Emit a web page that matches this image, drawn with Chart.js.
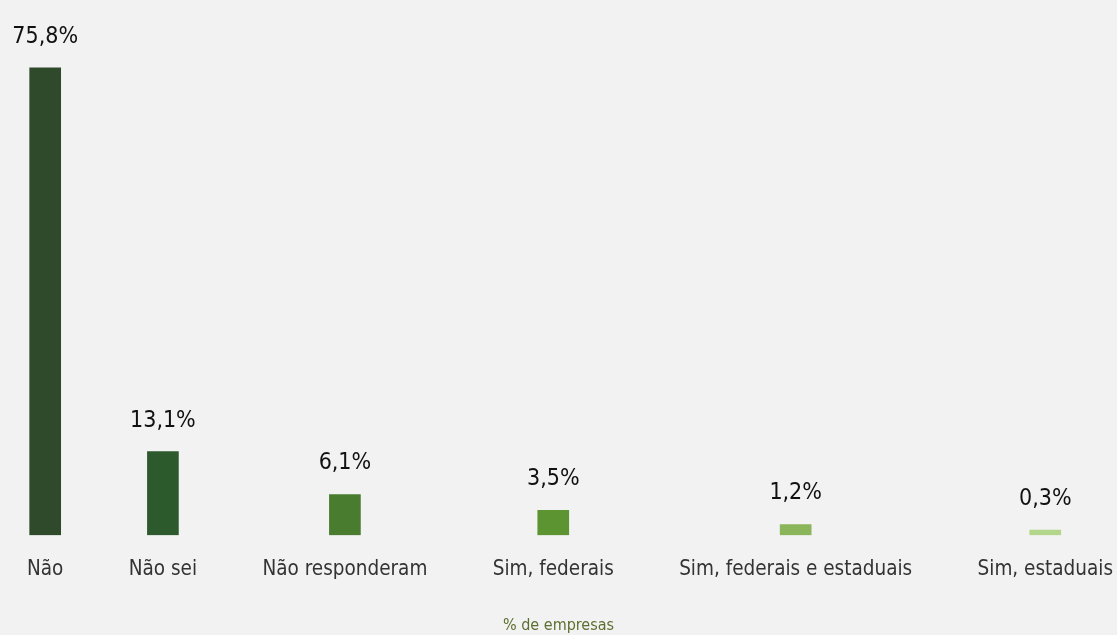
<!DOCTYPE html>
<html>
<head>
<meta charset="utf-8">
<script src="https://cdn.jsdelivr.net/npm/chart.js@4/dist/chart.umd.min.js"></script>
<style>
  html, body { margin: 0; padding: 0; background: #f2f2f2; }
  #wrap { width: 1117px; height: 635px; position: relative; }
</style>
</head>
<body>
<div id="wrap"><canvas id="c"></canvas></div>
<script>
// ---- data ----
const categories = ['Não', 'Não sei', 'Não responderam', 'Sim, federais', 'Sim, federais e estaduais', 'Sim, estaduais'];
const values = [75.8, 13.1, 6.1, 3.5, 1.2, 0.3];
const barColors = ['#2e4a2b', '#2d5a2c', '#4a7c2f', '#5b9430', '#8ab55a', '#b3d68a'];
const axisTitle = '% de empresas';

// ---- style ----
const FAMILY = "'Liberation Sans Narrow', 'DejaVu Sans Condensed', 'Roboto', sans-serif";
const TICK_SIZE = 20.5;
const VALUE_SIZE = 23;
const W = 1117;
const EDGE_LEFT = 27, EDGE_RIGHT = 4;
const Y_MIN = -0.55, Y_MAX = 80;

// Lay the categories out like a "space-between" row of their labels
function labelCenters(labels) {
  const ctx = document.createElement('canvas').getContext('2d');
  ctx.font = TICK_SIZE + 'px ' + FAMILY;
  const widths = labels.map(l => ctx.measureText(l).width);
  const total = widths.reduce((a, b) => a + b, 0);
  const gap = (W - EDGE_LEFT - EDGE_RIGHT - total) / (labels.length - 1);
  const centers = [];
  let x = EDGE_LEFT;
  widths.forEach(w => { centers.push(x + w / 2); x += w + gap; });
  return centers;
}
const xCenters = labelCenters(categories);

const valueLabels = {
  id: 'valueLabels',
  afterDatasetsDraw(chart) {
    const ctx = chart.ctx;
    const meta = chart.getDatasetMeta(0);
    ctx.save();
    ctx.font = VALUE_SIZE + 'px ' + FAMILY;
    ctx.fillStyle = '#111111';
    ctx.textAlign = 'center';
    ctx.textBaseline = 'alphabetic';
    meta.data.forEach((bar, i) => {
      const txt = values[i].toFixed(1).replace('.', ',') + '%';
      ctx.fillText(txt, bar.x, bar.y - 25);
    });
    ctx.restore();
  }
};

new Chart(document.getElementById('c'), {
  type: 'bar',
  data: {
    datasets: [{
      data: values.map((v, i) => ({ x: xCenters[i], y: v })),
      backgroundColor: barColors,
      barThickness: 31,
      borderWidth: 0,
      base: Y_MIN
    }]
  },
  options: {
    responsive: true,
    maintainAspectRatio: false,
    animation: false,
    layout: { padding: { top: 42, left: 0, right: 0, bottom: 0 } },
    plugins: { legend: { display: false }, tooltip: { enabled: false } },
    scales: {
      x: {
        type: 'linear',
        min: 0,
        max: W,
        offset: false,
        grid: { display: false, drawTicks: true, tickLength: 22 },
        border: { display: false },
        afterBuildTicks: (scale) => { scale.ticks = xCenters.map(v => ({ value: v })); },
        ticks: {
          autoSkip: false,
          maxRotation: 0,
          padding: 0,
          color: '#333333',
          font: { family: FAMILY, size: TICK_SIZE },
          callback: (v, i) => categories[i]
        },
        title: {
          display: true,
          text: axisTitle,
          color: '#5b6e2f',
          font: { family: FAMILY, size: 16 },
          padding: { top: 34, bottom: 0 }
        }
      },
      y: {
        display: false,
        min: Y_MIN,
        max: Y_MAX
      }
    }
  },
  plugins: [valueLabels]
});
</script>
</body>
</html>
